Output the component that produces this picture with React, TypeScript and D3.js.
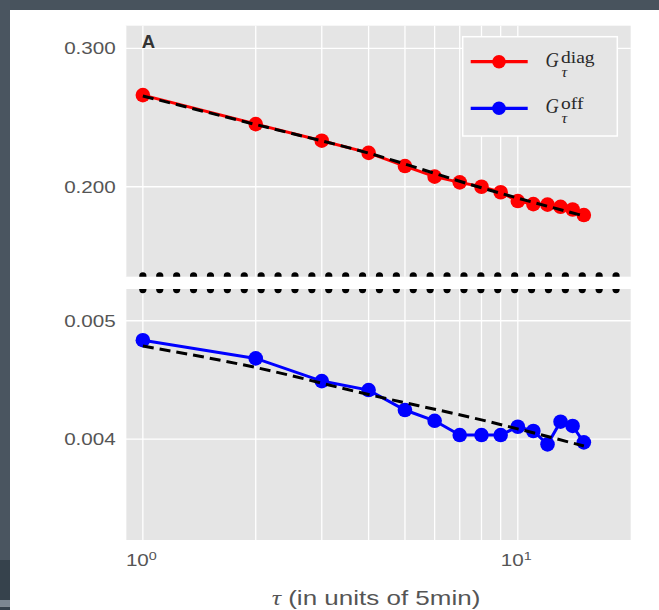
import React from 'react';
import * as d3 from 'd3';

// Lag (tau, in units of 5 min)
const tau = [1, 2, 3, 4, 5, 6, 7, 8, 9, 10, 11, 12, 13, 14, 15];
// Diagonal correlation G_tau^diag
const gDiag = [0.2616, 0.2403, 0.2289, 0.2209, 0.2125, 0.206, 0.2026, 0.2, 0.1968, 0.1918, 0.1901, 0.1898, 0.1886, 0.1871, 0.1841];
// Off-diagonal correlation G_tau^off
const gOff = [0.00482, 0.004657, 0.004462, 0.004387, 0.004225, 0.00414, 0.00403, 0.00403, 0.00403, 0.004094, 0.004061, 0.00396, 0.004133, 0.0041, 0.003975];
// Fitted curves, sampled at a few lags
const fitTau = [1, 2, 4, 8, 15];
const fitDiag = [0.2609, 0.24, 0.2207, 0.1994, 0.1836];
const fitOff = [0.004767, 0.004578, 0.00435, 0.004147, 0.003948];
// Tick labels
const xMajorTicks = [1, 10];
const topTicks = [0.3, 0.2];
const bottomTicks = [0.005, 0.004];
const legendLabels = ['diag', 'off'];

const W = 659;
const H = 610;
const L = 125.7;
const R = 630.7;
const TOP = [25.7, 276.7];
const BOT = [289, 540];
const BG = '#e5e5e5';
const TICK = '#555555';
const SX = 1.25;

const x = d3.scaleLog().domain([0.9, 20]).range([L, R]);
const yTop = d3.scaleLog().domain([0.15368, 0.32056]).range([TOP[1], TOP[0]]);
const yBot = d3.scaleLog().domain([0.0033063, 0.0053085]).range([BOT[1], BOT[0]]);

const gridX = x.ticks().filter((t) => t >= 0.9 && t < 20);

function Panel({ y0, y1, ys, ticks, values, fit, color, id, dotY }: any) {
  const line = d3
    .line<number>()
    .x((_, i) => x(tau[i]))
    .y((d) => ys(d));
  const fitLine = d3
    .line<number>()
    .x((_, i) => x(fitTau[i]))
    .y((d) => ys(d))
    .curve(d3.curveMonotoneX);
  const dots = d3.range(29).map((k) => x(1) + k * 16.9);
  return (
    <g>
      <defs>
        <clipPath id={id}>
          <rect x={L} y={y0} width={R - L} height={y1 - y0} />
        </clipPath>
      </defs>
      <rect x={L} y={y0} width={R - L} height={y1 - y0} fill={BG} />
      {gridX.map((t) => (
        <line key={'gx' + t} x1={x(t)} x2={x(t)} y1={y0} y2={y1} stroke="#fff" strokeWidth={1.3} />
      ))}
      {ticks.map((t: number) => (
        <line key={'gy' + t} x1={L} x2={R} y1={ys(t)} y2={ys(t)} stroke="#fff" strokeWidth={1.3} />
      ))}
      {ticks.map((t: number) => (
        <g key={'ty' + t} transform={`translate(${L - 10},${ys(t)}) scale(${SX},1)`}>
          <text
            textAnchor="end"
            dy="0.36em"
            fontFamily="'Liberation Sans', Arial, sans-serif"
            fontSize={16.5}
            fill={TICK}
          >
            {t.toFixed(3)}
          </text>
        </g>
      ))}
      <g clipPath={`url(#${id})`}>
        <path d={line(values) || ''} fill="none" stroke={color} strokeWidth={3} />
        {values.map((v: number, i: number) => (
          <circle key={i} cx={x(tau[i])} cy={ys(v)} r={7.3} fill={color} />
        ))}
        <path d={fitLine(fit) || ''} fill="none" stroke="#000" strokeWidth={3} strokeDasharray="11 6" />
        {dots.map((dx, i) => (
          <circle key={'d' + i} cx={dx} cy={dotY} r={3.6} fill="#000" />
        ))}
      </g>
    </g>
  );
}

const SERIF = "'Liberation Serif', 'DejaVu Serif', serif";

function LegendEntry({ y, color, label }: any) {
  return (
    <g>
      <line x1={470.7} x2={527.7} y1={y} y2={y} stroke={color} strokeWidth={3.3} />
      <circle cx={499} cy={y} r={6.8} fill={color} />
      <g transform={`translate(545.5,${y + 5}) scale(0.92,1)`}>
        <text fontFamily={SERIF} fontStyle="italic" fontSize={20} fill="#2a2a2a">
          G
        </text>
      </g>
      <g transform={`translate(561,${y + 0.8}) scale(1.22,1)`}>
        <text fontFamily={SERIF} fontSize={16} fill="#2a2a2a">
          {label}
        </text>
      </g>
      <g transform={`translate(561.5,${y + 15}) scale(1.1,1)`}>
        <text fontFamily={SERIF} fontStyle="italic" fontSize={14.5} fill="#2a2a2a">
          τ
        </text>
      </g>
    </g>
  );
}

export default function App() {
  return (
    <svg
      width={W}
      height={H}
      viewBox={`0 0 ${W} ${H}`}
      style={{ position: 'absolute', left: 0, top: 0, display: 'block' }}
    >
      <rect x={0} y={0} width={W} height={H} fill="#fff" />
      {/* surrounding window frame */}
      <rect x={0} y={0} width={W} height={10} fill="#48535d" />
      <rect x={0} y={0} width={10} height={560} fill="#4a5560" />
      <rect x={0} y={560} width={10} height={40} fill="#36424c" />
      <rect x={0} y={600} width={10} height={6.7} fill="#7c8791" />
      <rect x={0} y={606.7} width={10} height={3.3} fill="#36424c" />

      <Panel y0={TOP[0]} y1={TOP[1]} ys={yTop} ticks={topTicks} values={gDiag} fit={fitDiag} color="#ff0000" id="clipTop" dotY={TOP[1] - 0.8} />
      <Panel y0={BOT[0]} y1={BOT[1]} ys={yBot} ticks={bottomTicks} values={gOff} fit={fitOff} color="#0000ff" id="clipBot" dotY={BOT[0] + 0.6} />

      <text x={x(1) - 1} y={47.5} fontFamily="'Liberation Sans', Arial, sans-serif" fontWeight="bold" fontSize={18.5} fill="#333">
        A
      </text>

      {/* legend */}
      <rect x={462.7} y={36.7} width={154.6} height={99.3} fill={BG} stroke="#fff" strokeWidth={1.5} />
      <LegendEntry y={61.7} color="#ff0000" label={legendLabels[0]} />
      <LegendEntry y={108.3} color="#0000ff" label={legendLabels[1]} />

      {/* x tick labels */}
      {xMajorTicks.map((t) => {
        const exp = Math.round(Math.log10(t));
        return (
          <g key={t} transform={`translate(${x(t) - 1.5},${566}) scale(${SX},1)`}>
            <text textAnchor="middle" fontFamily="'Liberation Sans', Arial, sans-serif" fontSize={16.5} fill={TICK}>
              <tspan>10</tspan>
              <tspan dy={-6.5} fontSize={11.5}>{exp}</tspan>
            </text>
          </g>
        );
      })}

      {/* x axis label */}
      <g transform={`translate(376,604.5) scale(1.3,1)`}>
        <text textAnchor="middle" fontFamily="'Liberation Sans', Arial, sans-serif" fontSize={20} fill={TICK}>
          <tspan fontFamily="'Liberation Serif', serif" fontStyle="italic">τ</tspan>
          <tspan> (in units of 5min)</tspan>
        </text>
      </g>
    </svg>
  );
}
